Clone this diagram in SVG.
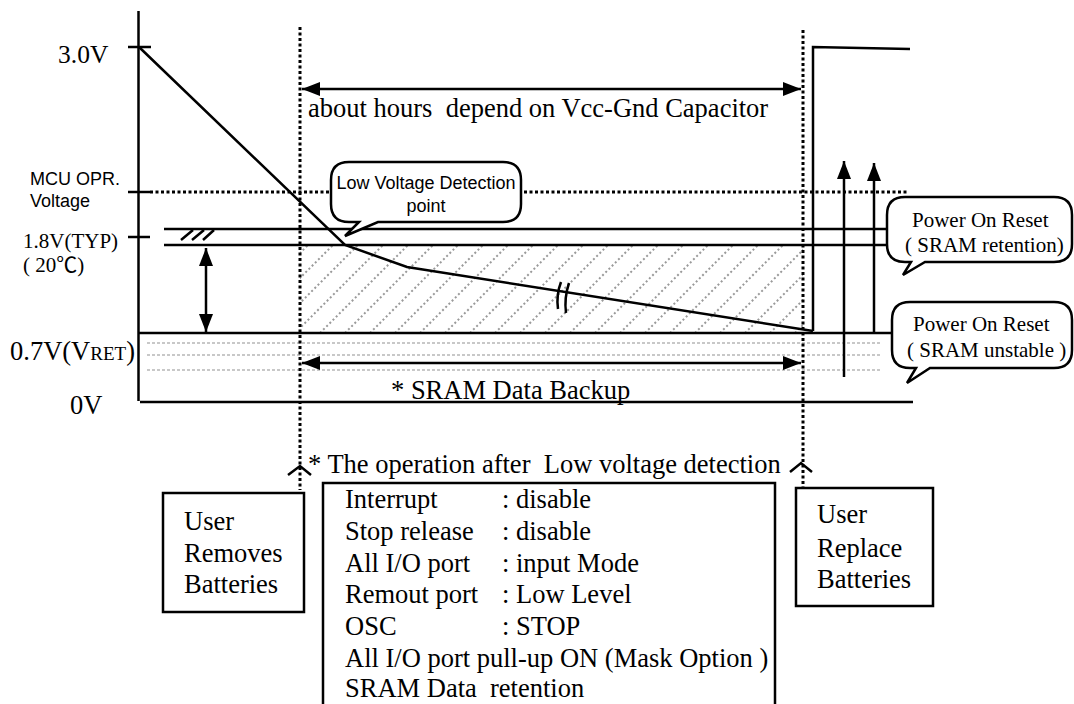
<svg xmlns="http://www.w3.org/2000/svg" width="1074" height="704" viewBox="0 0 1074 704">
<style>
.s{stroke:#000;stroke-width:2.5;fill:none}
.dot{stroke:#000;stroke-width:3;stroke-dasharray:3 2.5;fill:none}
.gd{stroke:#c8c8c8;stroke-width:2;stroke-dasharray:3 2;fill:none}
.hd{stroke:#9a9a9a;stroke-width:2;stroke-dasharray:2 2.5;fill:none}
.t{font-family:"Liberation Serif","Times New Roman",serif;font-size:26.5px;fill:#000}
.t21{font-family:"Liberation Serif","Times New Roman","Noto Sans CJK SC",serif;font-size:21px;fill:#000}
.sans{font-family:"Liberation Sans",Arial,sans-serif;font-size:18px;fill:#000}
.bub{fill:#fff;stroke:#000;stroke-width:2.5}
.box{fill:#fff;stroke:#000;stroke-width:2.5}
</style>
<defs>
<marker id="ah" viewBox="0 0 18 14" refX="18" refY="7" markerWidth="18" markerHeight="14" markerUnits="userSpaceOnUse" orient="auto-start-reverse">
<path d="M0,0 L18,7 L0,14 Z" fill="#000"/>
</marker>
<clipPath id="hc"><rect x="300" y="246" width="503" height="86"/></clipPath>
</defs>
<rect width="1074" height="704" fill="#fff"/>

<g id="hatch" clip-path="url(#hc)">
<path class="hd" d="M220,333 l100,-100 M245,333 l100,-100 M270,333 l100,-100 M295,333 l100,-100 M320,333 l100,-100 M345,333 l100,-100 M370,333 l100,-100 M395,333 l100,-100 M420,333 l100,-100 M445,333 l100,-100 M470,333 l100,-100 M495,333 l100,-100 M520,333 l100,-100 M545,333 l100,-100 M570,333 l100,-100 M595,333 l100,-100 M620,333 l100,-100 M645,333 l100,-100 M670,333 l100,-100 M695,333 l100,-100 M720,333 l100,-100 M745,333 l100,-100 M770,333 l100,-100 M795,333 l100,-100"/>
</g>

<g id="gridlines">
<line class="gd" x1="147" y1="343" x2="882" y2="343"/>
<line class="gd" x1="147" y1="355" x2="882" y2="355"/>
<line class="gd" x1="147" y1="370" x2="882" y2="370"/>
<line class="dot" x1="150" y1="192" x2="907" y2="192"/>
<line class="dot" x1="300" y1="27" x2="300" y2="490"/>
<line class="dot" x1="803" y1="30" x2="803" y2="487"/>
</g>

<g id="axes">
<line class="s" x1="138.5" y1="11" x2="138.5" y2="401"/>
<line class="s" x1="140" y1="402" x2="913" y2="402"/>
<line class="s" x1="128" y1="47" x2="151" y2="47"/>
<line class="s" x1="128" y1="192" x2="150" y2="192"/>
<line class="s" x1="128" y1="237" x2="150" y2="237"/>
<line class="s" x1="164" y1="229" x2="888" y2="229"/>
<line class="s" x1="164" y1="245" x2="888" y2="245"/>
<line class="s" x1="138" y1="333" x2="893" y2="333"/>
<path class="s" d="M181,240 L193,230 M192,240 L204,230 M203,240 L214,230"/>
</g>

<g id="curve">
<polyline class="s" points="139,47 345,245 407,267 813,331"/>
<polyline class="s" points="813,331 813,47 910,49"/>
<path class="s" d="M561,282 Q556,295 558,309 M569,283 Q564,298 566,313"/>
</g>

<g id="connectors">
<line class="s" x1="302" y1="89" x2="801" y2="89" marker-start="url(#ah)" marker-end="url(#ah)"/>
<line class="s" x1="302" y1="363" x2="801" y2="363" marker-start="url(#ah)" marker-end="url(#ah)"/>
<line class="s" x1="206" y1="248" x2="206" y2="332" marker-start="url(#ah)" marker-end="url(#ah)"/>
<line class="s" x1="844" y1="377" x2="844" y2="161" marker-end="url(#ah)"/>
<line class="s" x1="874" y1="333" x2="874" y2="163" marker-end="url(#ah)"/>
<path class="s" d="M288,475 L300,466 L311,475"/>
<path class="s" d="M790,472 L801,463 L812,472"/>
</g>

<g id="labels">
<text class="t" x="58" y="63" style="font-size:25.5px">3.0V</text>
<text class="sans" x="30" y="185">MCU OPR.</text>
<text class="sans" x="30" y="207">Voltage</text>
<text class="t21" x="23" y="248">1.8V(TYP)</text>
<text class="t21" x="23" y="272">( 20℃)</text>
<text class="t" x="10" y="360">0.7V(V<tspan style="font-size:19px">RET</tspan>)</text>
<text class="t" x="70" y="414">0V</text>
<text class="t" x="308" y="117" xml:space="preserve">about hours  depend on Vcc-Gnd Capacitor</text>
<text class="t" x="391" y="399">* SRAM Data Backup</text>
<text class="t" x="308" y="473" xml:space="preserve">* The operation after  Low voltage detection</text>
</g>

<g id="lvd-callout">
<path class="bub" d="M349,162 H503 Q521,162 521,180 V204 Q521,222 503,222 H378 L345,236 L359,222 H349 Q331,222 331,204 V180 Q331,162 349,162 Z"/>
<text class="sans" x="426" y="189" text-anchor="middle">Low Voltage Detection</text>
<text class="sans" x="426" y="212" text-anchor="middle">point</text>
</g>

<g id="por-retention">
<path class="bub" d="M905,197 H1054 Q1072,197 1072,215 V244 Q1072,262 1054,262 H925 L903,275 L911,262 H905 Q887,262 887,244 V215 Q887,197 905,197 Z"/>
<text class="t21" x="912" y="227">Power On Reset</text>
<text class="t21" x="905" y="252">( SRAM retention)</text>
</g>

<g id="por-unstable">
<path class="bub" d="M910,302 H1054 Q1072,302 1072,320 V350 Q1072,368 1054,368 H930 L907,383 L916,368 H910 Q892,368 892,350 V320 Q892,302 910,302 Z"/>
<text class="t21" x="913" y="331">Power On Reset</text>
<text class="t21" x="907" y="357">( SRAM unstable )</text>
</g>

<g id="user-removes">
<rect class="box" x="163" y="493" width="141" height="119"/>
<text class="t" x="184" y="530">User</text>
<text class="t" x="184" y="562">Removes</text>
<text class="t" x="184" y="593">Batteries</text>
</g>

<g id="operation-box">
<path class="s" d="M323,712 V483 H775 V712"/>
<text class="t" x="345" y="508">Interrupt</text>
<text class="t" x="502" y="508">: disable</text>
<text class="t" x="345" y="540">Stop release</text>
<text class="t" x="502" y="540">: disable</text>
<text class="t" x="345" y="572">All I/O port</text>
<text class="t" x="502" y="572">: input Mode</text>
<text class="t" x="345" y="603">Remout port</text>
<text class="t" x="502" y="603">: Low Level</text>
<text class="t" x="345" y="635">OSC</text>
<text class="t" x="502" y="635">: STOP</text>
<text class="t" x="345" y="667">All I/O port pull-up ON (Mask Option )</text>
<text class="t" x="345" y="697" xml:space="preserve">SRAM Data  retention</text>
</g>

<g id="user-replace">
<rect class="box" x="796" y="488" width="137" height="118"/>
<text class="t" x="817" y="523">User</text>
<text class="t" x="817" y="557">Replace</text>
<text class="t" x="817" y="588">Batteries</text>
</g>
</svg>
